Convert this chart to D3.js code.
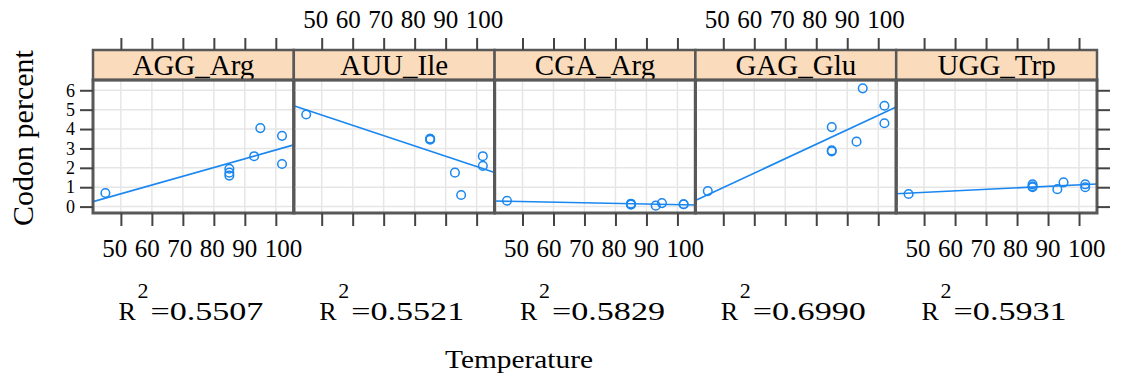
<!DOCTYPE html>
<html>
<head>
<meta charset="utf-8">
<script src="https://cdn.jsdelivr.net/npm/d3@7"></script>
<style>
  html, body { margin: 0; padding: 0; background: #fff; }
  svg { display: block; }
</style>
</head>
<body>
<svg id="chart" width="1124" height="383"></svg>
<script>
// ---- data ----
const codons = ["AGG_Arg", "AUU_Ile", "CGA_Arg", "GAG_Glu", "UGG_Trp"];
const temperature = [45, 85, 85, 85, 93, 95, 102, 102];
const AGG_Arg = [0.7, 1.95, 1.75, 1.6, 2.6, 4.05, 3.65, 2.2];
const AUU_Ile = [4.75, 3.5, 3.45, 3.5, 1.75, 0.6, 2.6, 2.1];
const CGA_Arg = [0.3, 0.15, 0.12, 0.1, 0.05, 0.18, 0.12, 0.12];
const GAG_Glu = [0.8, 4.1, 2.9, 2.85, 3.35, 6.1, 5.2, 4.3];
const UGG_Trp = [0.65, 1.15, 1.05, 1.0, 0.9, 1.25, 1.15, 1.0];
const rSquared = ["0.5507", "0.5521", "0.5829", "0.6990", "0.5931"];
const xTicks = [50, 60, 70, 80, 90, 100];
const yTicks = [0, 1, 2, 3, 4, 5, 6];
const seriesByCodon = { AGG_Arg, AUU_Ile, CGA_Arg, GAG_Glu, UGG_Trp };

// ---- layout ----
const FONT = "'Liberation Serif', 'DejaVu Serif', serif";
const svg = d3.select("#chart").attr("font-family", FONT);
const panelBand = d3.scaleBand().domain(codons).range([93, 1097]).paddingInner(0);
const bw = panelBand.bandwidth();
const stripTop = 50, stripBottom = 80, panelBottom = 213;
const y = d3.scaleLinear().domain([-0.33, 6.53]).range([panelBottom, stripBottom]);
const xDomain = [41, 105.8];
const blue = "#1a87f0";
const frameCol = "#585858";

function txt(sel) {
  return sel.append("text").style("font-family", FONT).attr("fill", "#000");
}

const defs = svg.append("defs");

function fit(xs, ys) {
  const mx = d3.mean(xs), my = d3.mean(ys);
  let sxy = 0, sxx = 0;
  xs.forEach((xv, i) => { sxy += (xv - mx) * (ys[i] - my); sxx += (xv - mx) ** 2; });
  const b = sxy / sxx;
  return { a: my - b * mx, b };
}

codons.forEach((c, i) => {
  const left = panelBand(c);
  const x = d3.scaleLinear().domain(xDomain).range([left, left + bw]);
  const g = svg.append("g");
  const vals = seriesByCodon[c];

  defs.append("clipPath").attr("id", "clip" + i)
    .append("rect").attr("x", left).attr("y", stripBottom).attr("width", bw).attr("height", panelBottom - stripBottom);

  // grid
  g.append("g").selectAll("line").data(xTicks).join("line")
    .attr("x1", d => x(d)).attr("x2", d => x(d))
    .attr("y1", stripBottom).attr("y2", panelBottom)
    .attr("stroke", "#e6e6e6").attr("stroke-width", 1.5);
  g.append("g").selectAll("line").data(yTicks).join("line")
    .attr("x1", left).attr("x2", left + bw)
    .attr("y1", d => y(d)).attr("y2", d => y(d))
    .attr("stroke", "#e6e6e6").attr("stroke-width", 1.5);

  // regression line
  const f = fit(temperature, vals);
  g.append("line")
    .attr("clip-path", `url(#clip${i})`)
    .attr("x1", x(xDomain[0])).attr("y1", y(f.a + f.b * xDomain[0]))
    .attr("x2", x(xDomain[1])).attr("y2", y(f.a + f.b * xDomain[1]))
    .attr("stroke", blue).attr("stroke-width", 1.6);

  // points
  g.append("g").selectAll("circle").data(vals.map((v, k) => [temperature[k], v])).join("circle")
    .attr("cx", d => x(d[0])).attr("cy", d => y(d[1])).attr("r", 4.3)
    .attr("fill", "none").attr("stroke", blue).attr("stroke-width", 1.5);

  // strip
  g.append("rect").attr("x", left).attr("y", stripTop).attr("width", bw).attr("height", stripBottom - stripTop)
    .attr("fill", "#fadcbd").attr("stroke", frameCol).attr("stroke-width", 2.5);
  txt(g).attr("x", left + bw / 2).attr("y", stripBottom - 5)
    .attr("text-anchor", "middle").attr("font-size", 29).text(c);

  // panel frame
  g.append("rect").attr("x", left).attr("y", stripBottom).attr("width", bw).attr("height", panelBottom - stripBottom)
    .attr("fill", "none").attr("stroke", frameCol).attr("stroke-width", 3);

  // x ticks top & bottom
  const topAxis = d3.axisTop(x).tickValues(xTicks).tickSize(12).tickFormat("");
  const botAxis = d3.axisBottom(x).tickValues(xTicks).tickSize(13).tickFormat("");
  const ta = g.append("g").attr("transform", `translate(0,${stripTop})`).call(topAxis);
  const ba = g.append("g").attr("transform", `translate(0,${panelBottom})`).call(botAxis);
  [ta, ba].forEach(a => {
    a.select(".domain").remove();
    a.selectAll(".tick line").attr("stroke", "#444").attr("stroke-width", 2);
  });

  // x tick labels (alternating bottom/top), laid out as a spaced row centred under the ticks
  const onTop = i % 2 === 1;
  const lg = g.append("g");
  const labels = xTicks.map(v => txt(lg).attr("y", onTop ? 28 : 257)
    .attr("text-anchor", "start").attr("font-size", 25).text(v));
  const widths = labels.map(t => t.node().getComputedTextLength());
  const gap = 7.5;
  const total = d3.sum(widths) + gap * (labels.length - 1);
  let cx = x(75) + 4 - total / 2;
  labels.forEach((t, k) => { t.attr("x", cx); cx += widths[k] + gap; });

  // R^2 label
  const rg = g.append("g").attr("transform", `translate(${left + bw / 2 - 75},0)`);
  txt(rg).attr("x", 0).attr("y", 320).attr("font-size", 26).text("R");
  txt(rg).attr("x", 19).attr("y", 298).attr("font-size", 22).text("2");
  txt(rg).attr("x", 32).attr("y", 320).attr("font-size", 26)
    .attr("textLength", 113).attr("lengthAdjust", "spacingAndGlyphs").text("=" + rSquared[i]);
});

// y axis left (labels) and right (ticks only)
const yl = svg.append("g").attr("transform", `translate(${panelBand.range()[0]},0)`)
  .call(d3.axisLeft(y).tickValues(yTicks).tickSize(13).tickPadding(5).tickFormat(d3.format("d")));
yl.attr("font-family", null);
yl.select(".domain").remove();
yl.selectAll(".tick line").attr("stroke", "#444").attr("stroke-width", 2);
yl.selectAll(".tick text").attr("font-size", 18).style("font-family", FONT).attr("fill", "#000");

const yr = svg.append("g").attr("transform", `translate(${panelBand.range()[1]},0)`)
  .call(d3.axisRight(y).tickValues(yTicks).tickSize(13).tickFormat(""));
yr.select(".domain").remove();
yr.selectAll(".tick line").attr("stroke", "#444").attr("stroke-width", 2);

// axis titles
txt(svg).attr("transform", "translate(33,138) rotate(-90)")
  .attr("text-anchor", "middle").attr("font-size", 30).text("Codon percent");
txt(svg).attr("x", 445).attr("y", 368).attr("font-size", 25)
  .attr("textLength", 148).attr("lengthAdjust", "spacingAndGlyphs").text("Temperature");
</script>
</body>
</html>
